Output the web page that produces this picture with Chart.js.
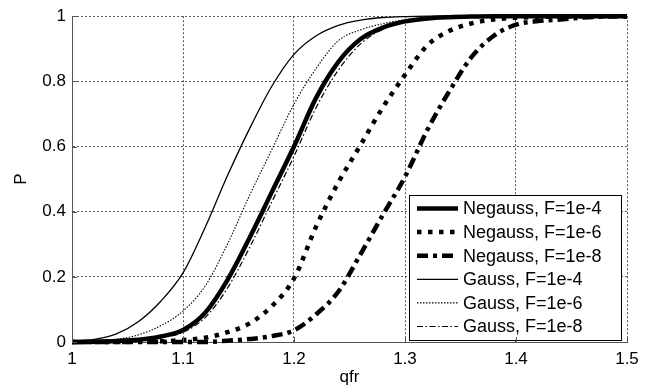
<!DOCTYPE html>
<html>
<head>
<meta charset="utf-8">
<script src="https://cdn.jsdelivr.net/npm/chart.js@4/dist/chart.umd.min.js"></script>
<style>
  html, body { margin: 0; padding: 0; background: #fff; }
</style>
</head>
<body>
<canvas id="chart" width="653" height="392"></canvas>
<script>
// --- DATA ---
const qfr = [1.00, 1.02, 1.04, 1.06, 1.08, 1.10, 1.12, 1.14, 1.16, 1.18, 1.20, 1.22, 1.24,
             1.26, 1.28, 1.30, 1.32, 1.34, 1.36, 1.38, 1.40, 1.42, 1.44, 1.46, 1.48, 1.50];

const negauss4 = [0, 0.001, 0.003, 0.007, 0.017, 0.037, 0.09, 0.19, 0.32, 0.46, 0.60, 0.75, 0.86,
                  0.93, 0.965, 0.984, 0.993, 0.997, 0.999, 1, 1, 1, 1, 1, 1, 1];
const negauss6 = [0, 0, 0, 0.001, 0.002, 0.006, 0.013, 0.03, 0.057, 0.11, 0.195, 0.355, 0.49,
                  0.605, 0.72, 0.82, 0.91, 0.955, 0.978, 0.99, 0.995, 0.998, 0.999, 1, 1, 1];
const negauss8 = [0, 0, 0, 0, 0, 0, 0, 0.004, 0.009, 0.018, 0.036, 0.085, 0.155,
                  0.27, 0.39, 0.507, 0.65, 0.77, 0.875, 0.94, 0.974, 0.985, 0.99, 0.996, 0.999, 1];
const gauss4 = [0.002, 0.008, 0.025, 0.063, 0.125, 0.212, 0.352, 0.51, 0.655, 0.785, 0.883, 0.94, 0.972,
                0.988, 0.996, 0.999, 1, 1, 1, 1, 1, 1, 1, 1, 1, 1];
const gauss6 = [0, 0.002, 0.008, 0.022, 0.05, 0.095, 0.172, 0.30, 0.45, 0.59, 0.73, 0.84, 0.925,
                0.958, 0.977, 0.989, 0.995, 0.998, 1, 1, 1, 1, 1, 1, 1, 1];
const gauss8 = [0, 0, 0.002, 0.005, 0.013, 0.03, 0.075, 0.165, 0.29, 0.43, 0.57, 0.72, 0.835,
                0.915, 0.96, 0.983, 0.993, 0.997, 0.999, 1, 1, 1, 1, 1, 1, 1];

const seriesNames = ["Negauss, F=1e-4", "Negauss, F=1e-6", "Negauss, F=1e-8",
                     "Gauss, F=1e-4", "Gauss, F=1e-6", "Gauss, F=1e-8"];

const xTicks = [1, 1.1, 1.2, 1.3, 1.4, 1.5];
const xTickLabels = ["1", "1.1", "1.2", "1.3", "1.4", "1.5"];
const yTicks = [0, 0.2, 0.4, 0.6, 0.8, 1];
const yTickLabels = ["0", "0.2", "0.4", "0.6", "0.8", "1"];

// --- ESTILOS ---
const FONT = "'Liberation Sans', Arial, sans-serif";
const estilos = [
  { width: 4.5, dash: [] },
  { width: 4.5, dash: [4.5, 6.5] },
  { width: 4.5, dash: [11, 5, 4, 5] },
  { width: 1.3, dash: [] },
  { width: 1.1, dash: [1.5, 1.5] },
  { width: 1.2, dash: [6, 2.5, 1.5, 2.5] },
];

const valores = [negauss4, negauss6, negauss8, gauss4, gauss6, gauss8];

const datasets = valores.map((serie, i) => ({
  label: seriesNames[i],
  data: serie.map((y, j) => ({ x: qfr[j], y: y })),
  borderColor: "#000",
  borderWidth: estilos[i].width,
  borderDash: estilos[i].dash,
  borderCapStyle: "butt",
  pointRadius: 0,
  cubicInterpolationMode: "monotone",
  fill: false,
  clip: false,
}));

// --- LEYENDA DENTRO DEL AREA ---
const leyendaPlugin = {
  id: "leyendaInterna",
  afterDatasetsDraw(chart) {
    const { ctx, chartArea } = chart;
    const w = 212, h = 145;
    const left = chartArea.right - w - 6;
    const top = chartArea.bottom - h - 2;
    ctx.save();
    ctx.fillStyle = "#fff";
    ctx.fillRect(left, top, w, h);
    ctx.strokeStyle = "#000";
    ctx.lineWidth = 1;
    ctx.strokeRect(left + 0.5, top + 0.5, w, h);
    ctx.font = "18px " + FONT;
    ctx.textBaseline = "middle";
    ctx.fillStyle = "#000";
    chart.data.datasets.forEach((ds, i) => {
      const y = top + 13.5 + i * 23.6;
      ctx.beginPath();
      ctx.lineWidth = ds.borderWidth;
      ctx.setLineDash(ds.borderDash);
      ctx.lineCap = "butt";
      ctx.moveTo(left + 8, y);
      ctx.lineTo(left + 49, y);
      ctx.stroke();
      ctx.setLineDash([]);
      ctx.fillText(ds.label, left + 54, y + 1);
    });
    ctx.restore();
  },
};

// --- MARCAS HACIA DENTRO (estilo MATLAB) ---
const marcasPlugin = {
  id: "marcas",
  afterDraw(chart) {
    const { ctx, chartArea, scales } = chart;
    ctx.save();
    ctx.strokeStyle = "#555";
    ctx.lineWidth = 1;
    ctx.beginPath();
    xTicks.forEach((v) => {
      const px = Math.round(scales.x.getPixelForValue(v)) + 0.5;
      ctx.moveTo(px, chartArea.bottom);
      ctx.lineTo(px, chartArea.bottom - 5);
    });
    yTicks.forEach((v) => {
      const py = Math.round(scales.y.getPixelForValue(v)) + 0.5;
      ctx.moveTo(chartArea.left, py);
      ctx.lineTo(chartArea.left + 5, py);
    });
    ctx.stroke();
    ctx.restore();
  },
};

const ctx = document.getElementById("chart").getContext("2d");

new Chart(ctx, {
  type: "line",
  data: { datasets },
  plugins: [leyendaPlugin, marcasPlugin],
  options: {
    responsive: false,
    animation: false,
    devicePixelRatio: 1,
    layout: { padding: { top: 13, right: 26, left: 0, bottom: 0 } },
    plugins: { legend: { display: false }, tooltip: { enabled: false } },
    scales: {
      x: {
        type: "linear",
        min: 1,
        max: 1.5,
        afterBuildTicks: (s) => { s.ticks = xTicks.map((v) => ({ value: v })); },
        afterFit: (s) => { s.height = 50; },
        ticks: {
          font: { size: 17, family: FONT },
          color: "#000",
          padding: 7,
          maxRotation: 0,
          callback: (v, i) => xTickLabels[i],
        },
        grid: { color: "#555", lineWidth: 1, drawTicks: false },
        border: { display: true, color: "#555", width: 1, dash: [2, 2] },
        title: { display: true, text: "qfr", font: { size: 17, family: FONT }, color: "#000", padding: { top: 0, bottom: 4 } },
      },
      y: {
        type: "linear",
        min: 0,
        max: 1,
        afterBuildTicks: (s) => { s.ticks = yTicks.map((v) => ({ value: v })); },
        afterFit: (s) => { s.width = 72; },
        ticks: {
          font: { size: 17, family: FONT },
          color: "#000",
          padding: 6,
          callback: (v, i) => yTickLabels[i],
        },
        grid: { color: "#555", lineWidth: 1, drawTicks: false },
        border: { display: true, color: "#555", width: 1, dash: [2, 2] },
        title: { display: true, text: "P", font: { size: 17, family: FONT }, color: "#000", padding: { top: 11, bottom: 0 } },
      },
    },
  },
});
</script>
</body>
</html>
